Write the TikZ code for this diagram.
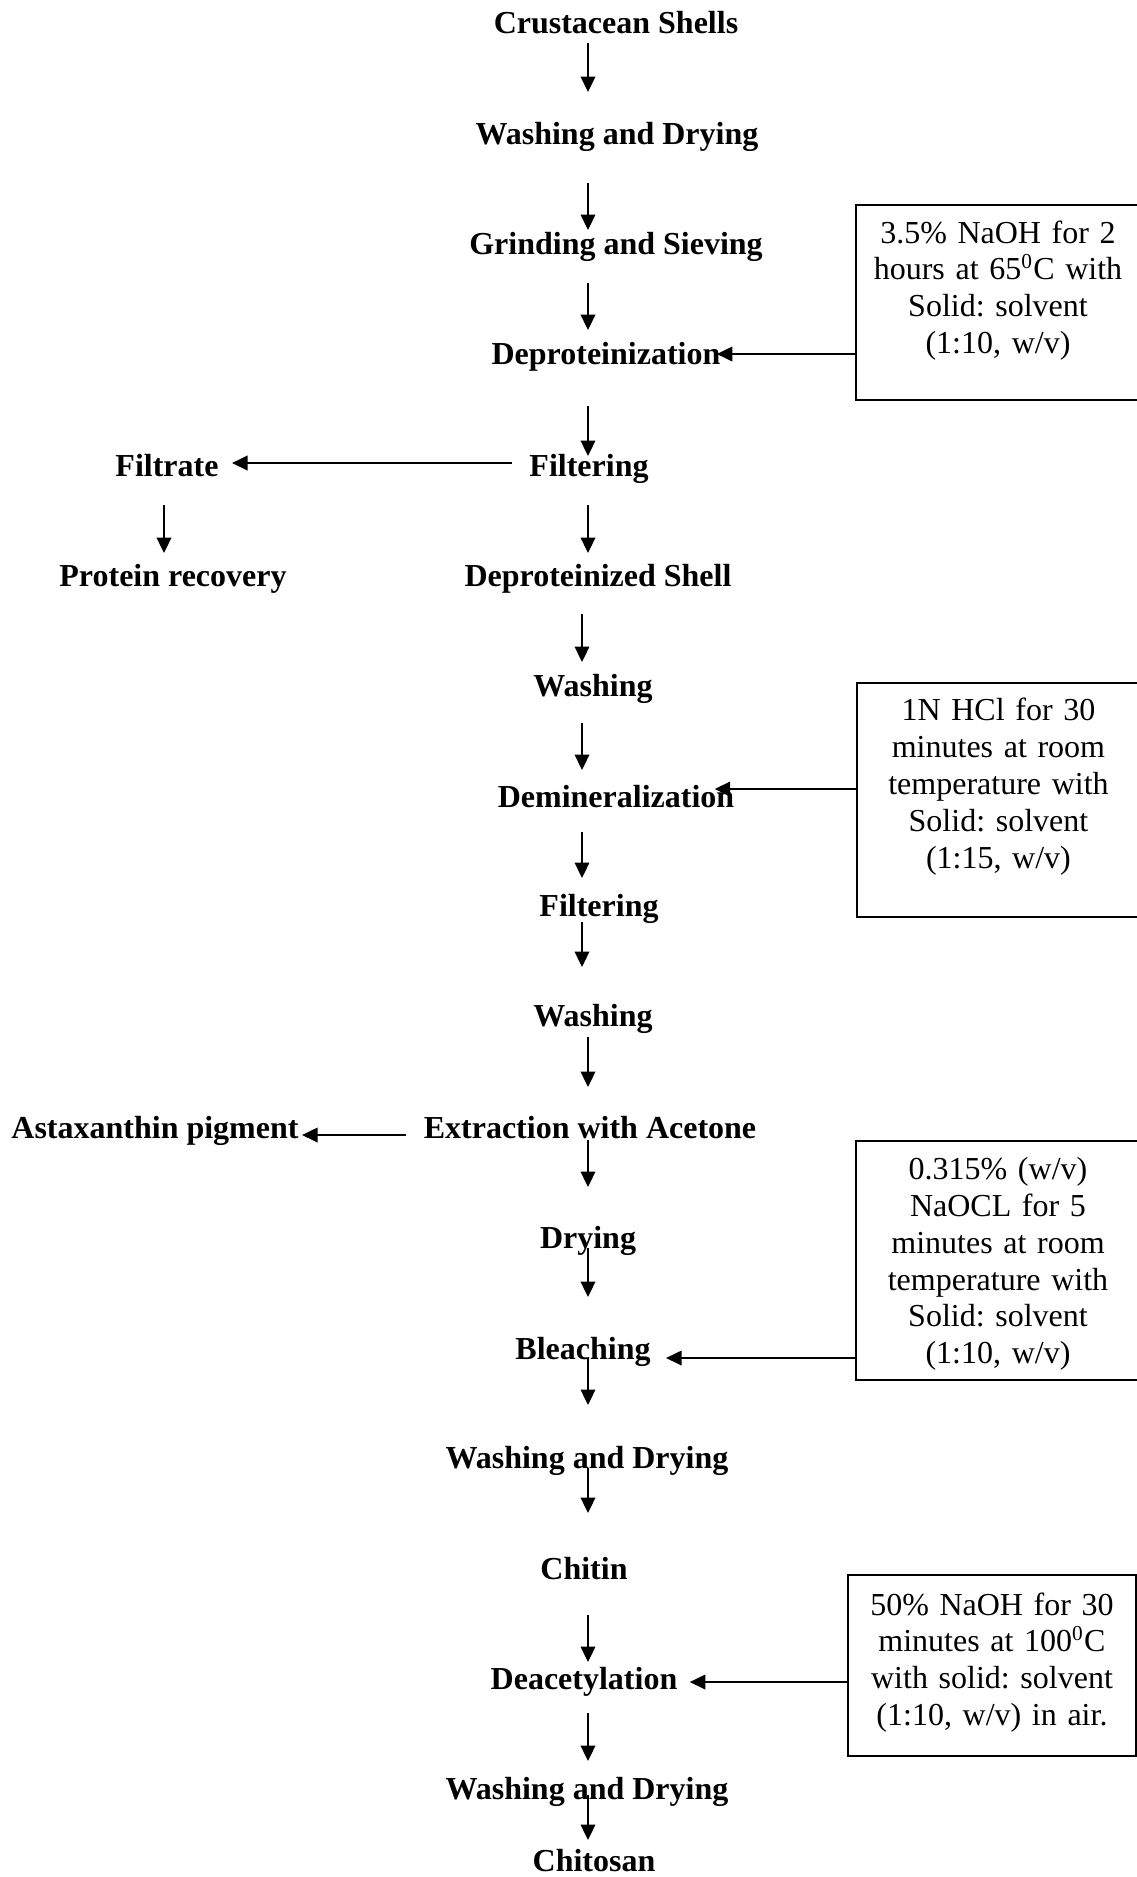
\documentclass[tikz,border=0pt]{standalone}
\usepackage{fontspec}
\setmainfont{Liberation Serif}
\usetikzlibrary{arrows.meta,calc}

\begin{document}
\begin{tikzpicture}[
x=0.375pt, y=-0.375pt,
stage/.style={font=\fontsize{12}{13.8}\selectfont\bfseries, inner sep=0pt, text height=7.9pt, text depth=0pt},
cond/.style={draw, line width=0.75pt, anchor=north west, inner sep=0pt, align=center, text width=100pt, font=\fontsize{12}{13.8}\selectfont\frenchspacing},
flow/.style={-{Triangle[length=5.8pt,width=5.5pt]}, line width=0.55pt},
]
\useasboundingbox (0,0) rectangle (1137,1877);
\coordinate (colA) at (588,0);
\coordinate (colB) at (582,0);

% main line
\node[stage] (crust) at (616,23) {Crustacean Shells};
\node[stage] (wash1) at (617,134) {Washing and Drying};
\node[stage] (grind) at (616,244) {Grinding and Sieving};
\node[stage] (deprot) at (606,354) {Deproteinization};
\node[stage] (filt1) at (589,466) {Filtering};
\node[stage] (dshell) at (598,576) {Deproteinized Shell};
\node[stage] (wash2) at (593,686) {Washing};
\node[stage] (demin) at (616,797) {Demineralization};
\node[stage] (filt2) at (599,906) {Filtering};
\node[stage] (wash3) at (593,1016) {Washing};
\node[stage] (extract) at (590,1128) {Extraction with Acetone};
\node[stage] (dry) at (588,1238) {Drying};
\node[stage] (bleach) at (583,1349) {Bleaching};
\node[stage] (wash4) at (587,1458) {Washing and Drying};
\node[stage] (chitin) at (584,1569) {Chitin};
\node[stage] (deacet) at (584,1679) {Deacetylation};
\node[stage] (wash5) at (587,1789) {Washing and Drying};
\node[stage] (chitosan) at (594,1861) {Chitosan};

% side products
\node[stage] (filtrate) at (167,466) {Filtrate};
\node[stage] (protein) at (173,576) {Protein recovery};
\node[stage] (astax) at (155,1128) {Astaxanthin pigment};

% conditions
\node[cond, minimum width=106.5pt, text height=14.5pt, text depth=58.8pt] (naoh) at (855,203.5)
	{3.5\% NaOH for 2\\ hours at 65\textsuperscript{0}C with\\ Solid: solvent\\ (1:10, w/v)};
\node[cond, minimum width=106.1pt, text height=14.2pt, text depth=73.5pt] (hcl) at (856,682)
	{1N HCl for 30\\ minutes at room\\ temperature with\\ Solid: solvent\\ (1:15, w/v)};
\node[cond, minimum width=106.5pt, text height=14.5pt, text depth=75.3pt] (naocl) at (855,1140)
	{0.315\% (w/v)\\ NaOCL for 5\\ minutes at room\\ temperature with\\ Solid: solvent\\ (1:10, w/v)};
\node[cond, minimum width=108pt, text height=15pt, text depth=52.9pt] (naoh50) at (847,1574)
	{50\% NaOH for 30\\ minutes at 100\textsuperscript{0}C\\ with solid: solvent\\ (1:10, w/v) in air.};

% downward arrows
\draw[flow] ($(crust -| colA)+(0,20)$) -- ($(wash1 -| colA)+(0,-42)$);
\draw[flow] ($(wash1 -| colA)+(0,49)$) -- ($(grind -| colA)+(0,-14)$);
\draw[flow] ($(grind -| colA)+(0,39)$) -- ($(deprot -| colA)+(0,-24)$);
\draw[flow] ($(deprot -| colA)+(0,52)$) -- ($(filt1 -| colA)+(0,-10)$);
\draw[flow] ($(filtrate)+(-3,39)$) -- ($(protein -| filtrate)+(-3,-23)$);
\draw[flow] ($(filt1 -| colA)+(0,39)$) -- ($(dshell -| colA)+(0,-23)$);
\draw[flow] ($(dshell -| colB)+(0,38)$) -- ($(wash2 -| colB)+(0,-24)$);
\draw[flow] ($(wash2 -| colB)+(0,37)$) -- ($(demin -| colB)+(0,-27)$);
\draw[flow] ($(demin -| colB)+(0,35)$) -- ($(filt2 -| colB)+(0,-28)$);
\draw[flow] ($(filt2 -| colB)+(0,16)$) -- ($(wash3 -| colB)+(0,-49)$);
\draw[flow] ($(wash3 -| colA)+(0,21)$) -- ($(extract -| colA)+(0,-41)$);
\draw[flow] ($(extract -| colA)+(0,12)$) -- ($(dry -| colA)+(0,-51)$);
\draw[flow] ($(dry -| colA)+(0,10)$) -- ($(bleach -| colA)+(0,-52)$);
\draw[flow] ($(bleach -| colA)+(0,9)$) -- ($(wash4 -| colA)+(0,-53)$);
\draw[flow] ($(wash4 -| colA)+(0,10)$) -- ($(chitin -| colA)+(0,-56)$);
\draw[flow] ($(chitin -| colA)+(0,46)$) -- ($(deacet -| colA)+(0,-17)$);
\draw[flow] ($(deacet -| colA)+(0,34)$) -- ($(wash5 -| colA)+(0,-28)$);
\draw[flow] ($(wash5 -| colA)+(0,6)$) -- ($(chitosan -| colA)+(0,-21)$);

% side arrows
\draw[flow] ($(filt1.west)+(-17,-3)$) -- ($(filtrate.east)+(13,-3)$);
\draw[flow] ($(extract.west)+(-17,7)$) -- ($(astax.east)+(3,7)$);
\draw[flow] (naoh.west |- deprot) -- ($(deprot.east)+(-4,0)$);
\draw[flow] ($(hcl.west |- demin)+(0,-8)$) -- ($(demin.east)+(-20,-8)$);
\draw[flow] ($(naocl.west |- bleach)+(0,9)$) -- ($(bleach.east)+(15,9)$);
\draw[flow] ($(naoh50.west |- deacet)+(0,3)$) -- ($(deacet.east)+(12,3)$);
\end{tikzpicture}
\end{document}
